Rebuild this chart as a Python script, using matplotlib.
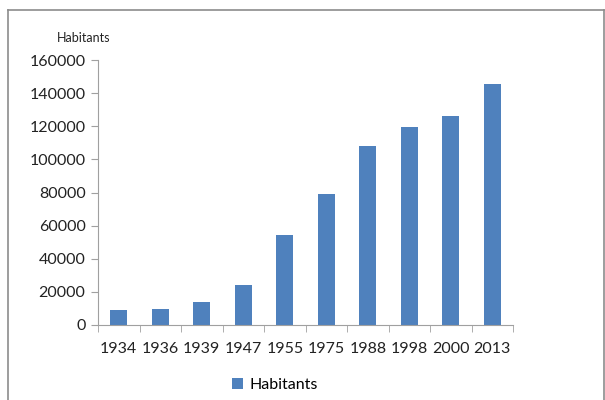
import matplotlib.pyplot as plt
from matplotlib.lines import Line2D

years = ['1934', '1936', '1939', '1947', '1955', '1975', '1988', '1998', '2000', '2013']
habitants = [9200, 9800, 14000, 24400, 54500, 78900, 107900, 119700, 126000, 145500]
yticks = [0, 20000, 40000, 60000, 80000, 100000, 120000, 140000, 160000]

plt.rcParams['font.family'] = ['Lato', 'DejaVu Sans']

fig = plt.figure(figsize=(6.05, 4.0), dpi=100)
ax = fig.add_axes([0.162, 0.1875, 0.686, 0.6625])

pos = range(len(years))
ax.bar(pos, habitants, width=0.4, color='#4F81BD', label='Habitants')

ax.set_xlim(-0.5, len(years) - 0.5)
ax.set_ylim(0, 160000)
ax.set_yticks(yticks)
ax.set_yticklabels([str(v) for v in yticks], fontsize=11.5, color='#222222')
ax.set_xticks(list(pos))
ax.set_xticklabels(years, fontsize=11.5, color='#222222')
ax.set_xticks([i - 0.5 for i in range(len(years) + 1)], minor=True)
ax.tick_params(axis='x', which='major', length=0, pad=12)
ax.tick_params(axis='x', which='minor', length=5, color='#A0A0A0', direction='out')
ax.tick_params(axis='y', length=5, color='#A0A0A0', direction='out', pad=4)

for s in ['top', 'right']:
    ax.spines[s].set_visible(False)
ax.spines['left'].set_color('#A0A0A0')
ax.spines['bottom'].set_color('#A0A0A0')

fig.text(0.139, 0.905, 'Habitants', fontsize=9, ha='center', va='center', color='#222222')

ax.legend(loc='center', bbox_to_anchor=(0.455, 0.038), bbox_transform=fig.transFigure,
          frameon=False, fontsize=11.5, handlelength=0.7, handleheight=0.7, handletextpad=0.4)

# outer chart frame
fig.add_artist(Line2D([0.0132, 0.0132], [0.0, 0.975], color='#8C8C8C', lw=1.2, transform=fig.transFigure))
fig.add_artist(Line2D([0.0132, 0.998], [0.975, 0.975], color='#8C8C8C', lw=1.2, transform=fig.transFigure))
fig.add_artist(Line2D([0.998, 0.998], [0.0, 0.975], color='#8C8C8C', lw=1.2, transform=fig.transFigure))

fig.savefig('out.png', dpi=100)
